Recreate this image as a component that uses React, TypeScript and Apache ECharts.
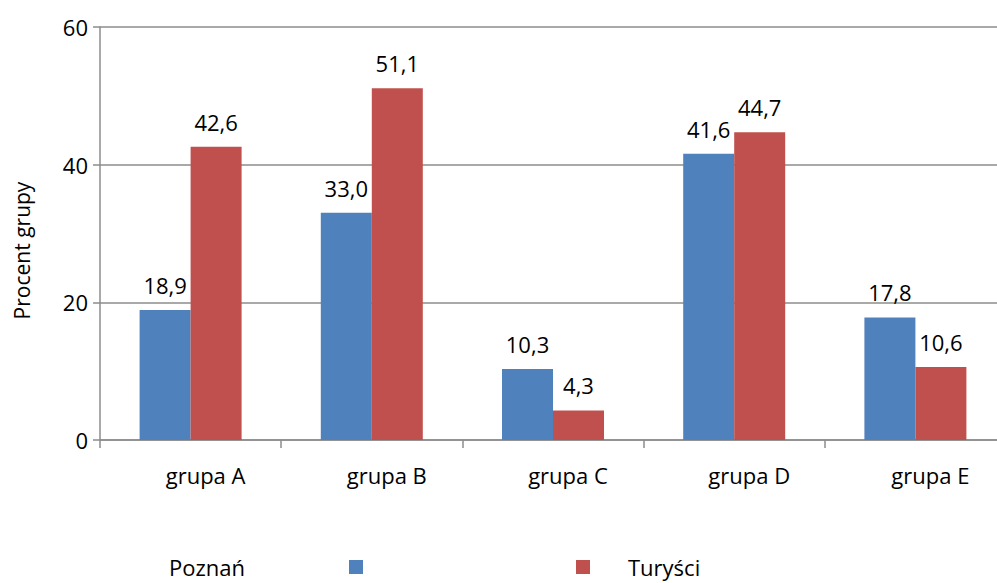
import React, { useEffect, useRef } from "react";
import * as echarts from "echarts";

const categories = ["grupa A", "grupa B", "grupa C", "grupa D", "grupa E"];
const poznan = [18.9, 33.0, 10.3, 41.6, 17.8];
const turysci = [42.6, 51.1, 4.3, 44.7, 10.6];
const seriesNames = ["Poznań", "Turyści"];
const yTicks = { min: 0, max: 60, interval: 20 };

const FONT = "'Open Sans', 'Noto Sans', sans-serif";
const FS = 22;
const fmt = (p: any) => Number(p.value).toFixed(1).replace(".", ",");

export default function App() {
  const ref = useRef<HTMLDivElement>(null);
  useEffect(() => {
    if (!ref.current) return;
    const chart = echarts.init(ref.current, null, { renderer: "svg" });
    const label = {
      show: true,
      position: "top" as const,
      distance: 14,
      formatter: fmt,
      color: "#000",
      fontSize: FS,
      fontFamily: FONT,
    };
    chart.setOption({
      animation: false,
      backgroundColor: "#fff",
      textStyle: { fontFamily: FONT },
      grid: {
        left: 100,
        top: 27,
        bottom: 143,
        right: -9,
        containLabel: false,
        outerBoundsMode: "none",
      },
      legend: [
        {
          data: [seriesNames[0]],
          left: 169,
          top: 556,
          padding: 0,
          align: "right",
          icon: "rect",
          itemWidth: 14,
          itemHeight: 14,
          textStyle: {
            fontSize: FS,
            color: "#000",
            fontFamily: FONT,
            padding: [0, 99, 0, 0],
          },
        },
        {
          data: [seriesNames[1]],
          left: 576,
          top: 556,
          padding: 0,
          align: "left",
          icon: "rect",
          itemWidth: 14,
          itemHeight: 14,
          textStyle: {
            fontSize: FS,
            color: "#000",
            fontFamily: FONT,
            padding: [0, 0, 0, 33],
          },
        },
      ],
      xAxis: {
        type: "category",
        data: categories,
        boundaryGap: true,
        axisLine: { show: true, lineStyle: { color: "#8c8c8c", width: 1.5 } },
        axisTick: { show: true, length: 8, alignWithLabel: false, lineStyle: { color: "#8c8c8c", width: 1.5 } },
        axisLabel: {
          color: "#000",
          fontSize: FS,
          margin: 24,
          fontFamily: FONT,
          interval: 0,
          padding: [0, 0, 0, 30],
        },
      },
      yAxis: {
        type: "value",
        min: yTicks.min,
        max: yTicks.max,
        interval: yTicks.interval,
        name: "Procent grupy",
        nameLocation: "middle",
        nameGap: 68,
        nameRotate: 90,
        nameTextStyle: { color: "#000", fontSize: 21, fontFamily: FONT, padding: [0, 34, 0, 0] },
        axisLine: { show: true, lineStyle: { color: "#8c8c8c", width: 1.5 } },
        axisTick: { show: true, length: 7, lineStyle: { color: "#8c8c8c", width: 1.5 } },
        axisLabel: { color: "#000", fontSize: FS, margin: 12, fontFamily: FONT },
        splitLine: { show: true, lineStyle: { color: "#8c8c8c", width: 1.5 } },
      },
      series: [
        {
          name: seriesNames[0],
          type: "bar",
          data: poznan,
          barWidth: 51,
          barGap: "0%",
          itemStyle: { color: "#4F81BD" },
          label,
        },
        {
          name: seriesNames[1],
          type: "bar",
          data: turysci,
          barWidth: 51,
          barGap: "0%",
          itemStyle: { color: "#C0504D" },
          label,
        },
      ],
    });
    return () => chart.dispose();
  }, []);
  return (
    <div
      ref={ref}
      style={{ position: "fixed", left: 0, top: 0, width: 997, height: 583 }}
    />
  );
}
